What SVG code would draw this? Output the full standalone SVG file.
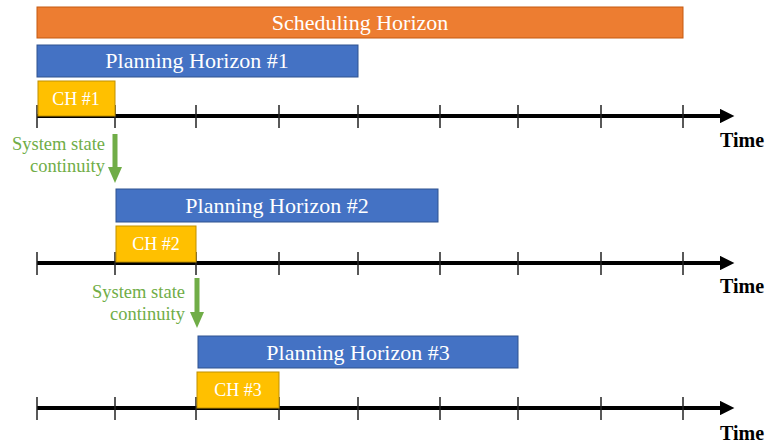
<svg xmlns="http://www.w3.org/2000/svg" width="768" height="445" viewBox="0 0 768 445">
<style>
.lbl{font-family:"Liberation Serif","Times New Roman",serif;fill:#fff;text-anchor:middle}
.big{font-size:22px}
.ch{font-size:18px}
.sched{fill:#ED7D31;stroke:#C55A11;stroke-width:1}
.plan{fill:#4472C4;stroke:#2F528F;stroke-width:1}
.chb{fill:#FFC000;stroke:#BF9000;stroke-width:1}
.axis{stroke:#000;stroke-width:4}
.tick{stroke:#222;stroke-width:1.5}
.time{font-family:"Liberation Serif","Times New Roman",serif;font-weight:bold;font-size:20px;fill:#000}
.green{font-family:"Liberation Serif","Times New Roman",serif;font-size:18.5px;fill:#70AD47;text-anchor:end}
.garrow{fill:#70AD47}
</style>
<defs>
<marker id="ah" viewBox="0 0 10 10" refX="0" refY="5" markerWidth="4.4" markerHeight="3.6" markerUnits="strokeWidth" orient="auto">
<path d="M0,0 L10,5 L0,10 z" fill="#000"/>
</marker>
<g id="ticks">
<line class="tick" x1="37" y1="-11" x2="37" y2="12"/>
<line class="tick" x1="115" y1="-11" x2="115" y2="12"/>
<line class="tick" x1="196" y1="-11" x2="196" y2="12"/>
<line class="tick" x1="279" y1="-11" x2="279" y2="12"/>
<line class="tick" x1="358" y1="-11" x2="358" y2="12"/>
<line class="tick" x1="440" y1="-11" x2="440" y2="12"/>
<line class="tick" x1="518" y1="-11" x2="518" y2="12"/>
<line class="tick" x1="601" y1="-11" x2="601" y2="12"/>
<line class="tick" x1="683" y1="-11" x2="683" y2="12"/>
</g>
</defs>

<g id="sched">
<rect class="sched" x="37" y="7" width="646" height="31"/>
<text class="lbl big" x="360" y="30">Scheduling Horizon</text>
</g>

<g id="axis1">
<line class="axis" x1="37" y1="116" x2="720" y2="116" marker-end="url(#ah)"/>
<use href="#ticks" y="116"/>
<text class="time" x="720" y="147">Time</text>
</g>
<g id="axis2">
<line class="axis" x1="37" y1="263" x2="720" y2="263" marker-end="url(#ah)"/>
<use href="#ticks" y="263"/>
<text class="time" x="720" y="293">Time</text>
</g>
<g id="axis3">
<line class="axis" x1="37" y1="408" x2="720" y2="408" marker-end="url(#ah)"/>
<use href="#ticks" y="408"/>
<text class="time" x="720" y="440">Time</text>
</g>

<g id="ph1">
<rect class="plan" x="37" y="45" width="321" height="32"/>
<text class="lbl big" x="197" y="68">Planning Horizon #1</text>
</g>
<g id="ch1">
<rect class="chb" x="38" y="81" width="77" height="35"/>
<text class="lbl ch" x="76" y="105">CH #1</text>
</g>

<g id="ph2">
<rect class="plan" x="116" y="189" width="322" height="33"/>
<text class="lbl big" x="277" y="213">Planning Horizon #2</text>
</g>
<g id="ch2">
<rect class="chb" x="116" y="226" width="80" height="36"/>
<text class="lbl ch" x="156" y="250">CH #2</text>
</g>

<g id="ph3">
<rect class="plan" x="198" y="336" width="320" height="32"/>
<text class="lbl big" x="358" y="360">Planning Horizon #3</text>
</g>
<g id="ch3">
<rect class="chb" x="197" y="372" width="82" height="36"/>
<text class="lbl ch" x="238" y="396">CH #3</text>
</g>

<g id="connectors">
<polygon class="garrow" points="112.5,134 117.5,134 117.5,167 122,167 115,183 108,167 112.5,167"/>
<polygon class="garrow" points="194.5,278 199.5,278 199.5,312 204,312 197,328 190,312 194.5,312"/>
</g>
<g id="cont1">
<text class="green" x="105" y="150">System state</text>
<text class="green" x="105" y="172">continuity</text>
</g>
<g id="cont2">
<text class="green" x="185" y="298">System state</text>
<text class="green" x="185" y="320">continuity</text>
</g>
</svg>
